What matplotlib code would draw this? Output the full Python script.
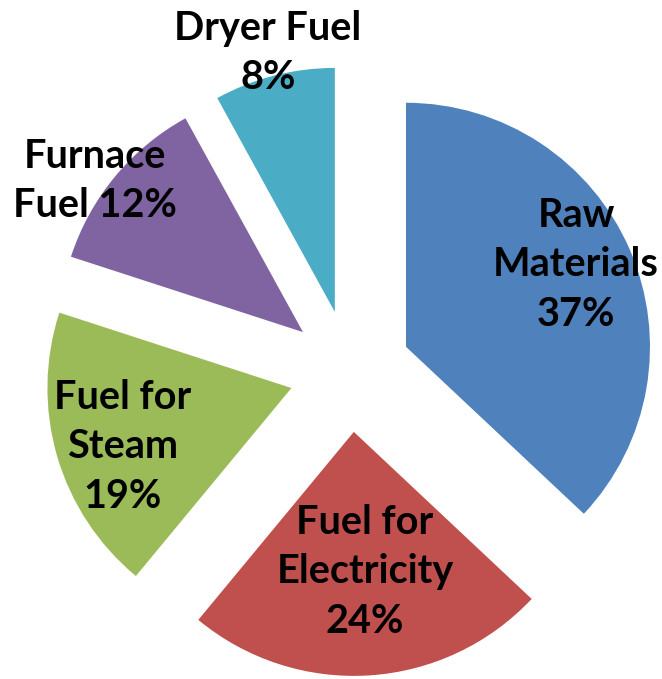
import matplotlib
matplotlib.use("Agg")
import matplotlib.pyplot as plt

categories = ["Raw Materials", "Fuel for Electricity", "Fuel for Steam", "Furnace Fuel", "Dryer Fuel"]
values = [37, 24, 19, 12, 8]
labels = ["Raw\nMaterials\n37%", "Fuel for\nElectricity\n24%", "Fuel for\nSteam\n19%", "Furnace\nFuel 12%", "Dryer Fuel\n8%"]
colors = ["#4F81BD", "#C0504D", "#9BBB59", "#8064A2", "#4BACC6"]

W, H = 662, 679
fig = plt.figure(figsize=(W / 100, H / 100), dpi=100)
ax = fig.add_axes([0, 0, 1, 1])

ax.pie(values, colors=colors, startangle=90, counterclock=False,
       explode=[61] * len(values), radius=244, center=(350, H - 371),
       frame=True, wedgeprops=dict(linewidth=0))
ax.set_xlim(0, W)
ax.set_ylim(0, H)
ax.set_aspect("equal")
ax.axis("off")

label_pos = [(576, 265), (365, 572), (123, 447), (95, 181), (268, 53)]
for lab, (x, y) in zip(labels, label_pos):
    ax.text(x, H - y, lab, ha="center", va="center", fontsize=28.5,
            fontweight="bold", family="Lato", linespacing=1.42, color="black")

fig.savefig("out.png", dpi=100)
